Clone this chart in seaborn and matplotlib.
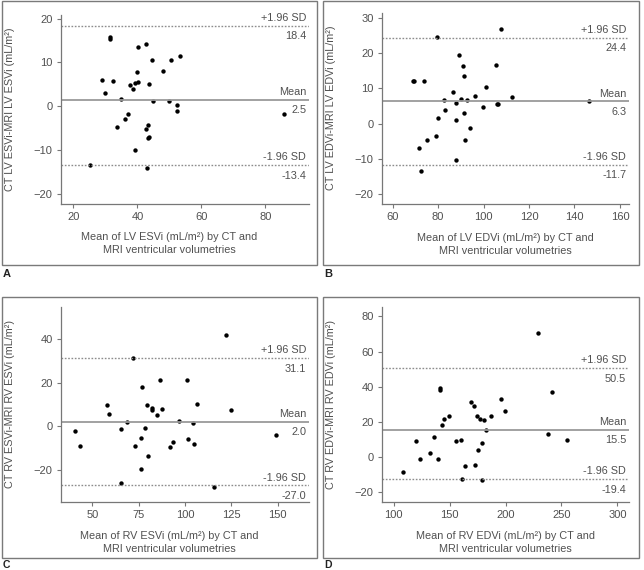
import matplotlib
matplotlib.use("Agg")
import matplotlib.pyplot as plt
from matplotlib.patches import Rectangle
import seaborn as sns

# panel A: LV ESVi
a_mean = [28.8, 31.3, 31.3, 29.9, 32.4, 35.0, 33.6, 36.1, 37.0, 37.7, 38.7, 39.3, 40.2, 40.0,
          40.2, 39.3, 42.8, 43.7, 44.6, 45.0, 42.8, 43.4, 43.4, 43.7, 43.1, 48.0, 49.8, 50.4,
          53.3, 52.5, 52.5, 85.7, 25.3]
a_diff = [5.9, 15.8, 15.3, 3.0, 5.8, 1.7, -4.7, -2.9, -1.7, 4.8, 3.9, 5.2, 5.5, 7.7,
          13.5, -10.0, 14.2, 5.0, 10.6, 1.2, -5.1, -4.2, -7.3, -7.1, -14.1, 8.0, 1.2, 10.6,
          11.4, 0.3, -1.2, -1.7, -13.5]

# panel B: LV EDVi
b_mean = [69.0, 69.4, 74.0, 79.6, 71.5, 75.1, 72.6, 78.9, 80.1, 82.5, 82.9, 86.4, 87.9, 88.0,
          87.9, 89.1, 90.2, 91.1, 91.6, 91.3, 92.0, 92.6, 93.9, 96.4, 99.6, 101.1, 105.3,
          105.7, 106.5, 107.6, 112.6, 146.5]
b_diff = [12.2, 12.2, 12.2, 24.5, -7.0, -4.8, -13.5, -3.6, 1.7, 6.8, 3.9, 9.0, 5.9, 1.0,
          -10.3, 19.6, 7.0, 16.4, 13.5, 3.1, -4.8, 6.8, -1.4, 7.9, 4.7, 10.4, 16.7,
          5.6, 5.7, 27.0, 7.5, 6.4]

# panel C: RV ESVi
c_mean = [40.5, 43.3, 57.7, 59.0, 65.7, 65.5, 68.6, 72.0, 73.1, 76.6, 76.3, 76.3, 78.4, 79.7,
          80.2, 82.3, 82.3, 84.7, 86.4, 87.6, 92.0, 93.7, 96.8, 101.2, 101.5, 104.3, 105.0,
          106.3, 115.4, 121.8, 124.7, 148.9]
c_diff = [-2.1, -8.8, 9.8, 5.8, -1.1, -26.1, 1.8, 31.4, -8.8, 18.1, -5.2, -19.5, -0.6, 9.6,
          -13.4, 8.5, 7.6, 5.0, 21.3, 8.1, -9.6, -7.3, 2.6, 21.2, -5.8, 1.5, -7.9,
          10.4, -27.6, 41.5, 7.6, -4.1]

# panel D: RV EDVi
d_mean = [108.1, 119.7, 123.6, 132.5, 135.8, 140.0, 141.5, 141.5, 143.0, 144.8, 149.9, 156.1,
          160.6, 161.2, 163.9, 169.6, 172.2, 173.1, 174.9, 175.5, 177.6, 180.6, 178.8, 179.4,
          182.7, 186.6, 195.8, 199.4, 229.3, 237.6, 241.5, 255.2]
d_diff = [-8.3, 9.1, -0.8, 2.6, 11.5, -1.1, 39.1, 38.4, 18.3, 21.9, 23.1, 9.1,
          9.5, -12.7, -5.1, 31.2, 29.1, -4.2, 23.3, 4.2, 21.7, 21.0, -13.0, 7.9,
          15.3, 23.4, 33.3, 26.1, 70.3, 12.9, 37.2, 9.5]

# reference lines as drawn (upper, mean, lower) and the printed values
a_lines = [18.4, 1.5, -13.4]
b_lines = [24.4, 6.3, -11.7]
c_lines = [31.1, 2.0, -27.0]
d_lines = [50.5, 15.5, -12.5]
a_vals = ["18.4", "2.5", "-13.4"]
b_vals = ["24.4", "6.3", "-11.7"]
c_vals = ["31.1", "2.0", "-27.0"]
d_vals = ["50.5", "15.5", "-19.4"]

a_xticks = [20, 40, 60, 80]
a_yticks = [-20, -10, 0, 10, 20]
b_xticks = [60, 80, 100, 120, 140, 160]
b_yticks = [-20, -10, 0, 10, 20, 30]
c_xticks = [50, 75, 100, 125, 150]
c_yticks = [-20, 0, 20, 40]
d_xticks = [100, 150, 200, 250, 300]
d_yticks = [-20, 0, 20, 40, 60, 80]

sns.set_style("ticks")
plt.rcParams["font.family"] = ["Liberation Sans", "DejaVu Sans"]

txt = "#505050"
W, H = 644, 570
fig = plt.figure(figsize=(6.44, 5.70), dpi=100)


def px_axes(x0, y0, x1, y1):
    return fig.add_axes([x0 / W, 1 - y1 / H, (x1 - x0) / W, (y1 - y0) / H])


def panel(ax, xs, ys, lines, vals, xticks, yticks, xlim, ylim, name, label_x):
    sns.scatterplot(x=xs, y=ys, ax=ax, color="black", s=10, linewidth=0)
    ax.axhline(lines[0], color="#8c8c8c", lw=1.0, ls=(0, (1.2, 1.2)))
    ax.axhline(lines[1], color="#9a9a9a", lw=1.3)
    ax.axhline(lines[2], color="#8c8c8c", lw=1.0, ls=(0, (1.2, 1.2)))
    tops = ["+1.96 SD", "Mean", "-1.96 SD"]
    for y, top, v in zip(lines, tops, vals):
        ax.annotate(top, xy=(1, y), xycoords=("axes fraction", "data"), xytext=(-2, 2),
                    textcoords="offset points", ha="right", va="bottom", fontsize=7.8, color=txt)
        ax.annotate(v, xy=(1, y), xycoords=("axes fraction", "data"), xytext=(-2, -4),
                    textcoords="offset points", ha="right", va="top", fontsize=7.8, color=txt)
    ax.set_xlim(*xlim)
    ax.set_ylim(*ylim)
    ax.set_xticks(xticks)
    ax.set_yticks(yticks)
    sns.despine(ax=ax)
    for s in ["left", "bottom"]:
        ax.spines[s].set_color("#777777")
        ax.spines[s].set_linewidth(0.9)
    ax.tick_params(length=3, width=0.8, color="#777777", labelcolor=txt, labelsize=8, pad=3)
    ax.set_xlabel(f"Mean of {name} (mL/m²) by CT and\nMRI ventricular volumetries",
                  fontsize=7.8, color=txt, linespacing=1.35)
    ax.set_ylabel(f"CT {name}-MRI {name} (mL/m²)", fontsize=7.8, color=txt)
    ax.xaxis.set_label_coords(label_x, -0.15)
    ax.yaxis.set_label_coords(-0.185, 0.5)


axA = px_axes(61, 15, 309, 204)
panel(axA, a_mean, a_diff, a_lines, a_vals, a_xticks, a_yticks, (16.1, 93.6), (-22.3, 20.8), "LV ESVi", 0.435)
axB = px_axes(382, 12.5, 629, 204)
panel(axB, b_mean, b_diff, b_lines, b_vals, b_xticks, b_yticks, (55.3, 164.0), (-22.9, 31.6), "LV EDVi", 0.5)
axC = px_axes(61, 307, 309, 502)
panel(axC, c_mean, c_diff, c_lines, c_vals, c_xticks, c_yticks, (33.1, 166.8), (-34.6, 54.5), "RV ESVi", 0.435)
axD = px_axes(382, 307, 629, 502)
panel(axD, d_mean, d_diff, d_lines, d_vals, d_xticks, d_yticks, (89.6, 310.4), (-25.5, 85.3), "RV EDVi", 0.5)

# panel frames and letters
for (x0, y0, x1, y1), letter in zip([(2, 0.5, 317, 265), (323, 0.5, 639, 265),
                                     (2, 297, 317, 558), (323, 297, 639, 558)], "ABCD"):
    fig.patches.append(Rectangle((x0 / W, 1 - y1 / H), (x1 - x0) / W, (y1 - y0) / H,
                                 transform=fig.transFigure, fill=False,
                                 edgecolor="#7a7a7a", lw=1.0))
    if letter in "AB":
        fig.text((x0 + 1) / W, 1 - (y1 + 4) / H, letter, fontsize=8, fontweight="bold",
                 color="#222222", ha="left", va="top")
    else:
        fig.text((x0 + 1) / W, 0.5 / H, letter, fontsize=7.5, fontweight="bold",
                 color="#222222", ha="left", va="bottom")

fig.savefig("out.png", dpi=100)
